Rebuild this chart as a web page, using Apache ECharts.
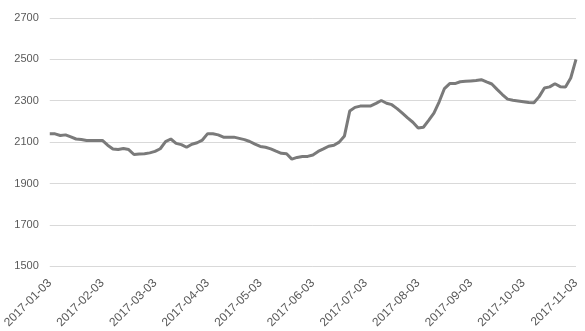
<!DOCTYPE html>
<html>
<head>
<meta charset="utf-8">
<script src="https://cdn.jsdelivr.net/npm/echarts@6/dist/echarts.min.js"></script>
<style>
html,body{margin:0;padding:0;background:#fff;}
#chart{width:585px;height:331px;}
</style>
</head>
<body>
<div id="chart"></div>
<script>
// Tick labels on the category axis (one every 10 points)
const tickLabels = ['2017-01-03','2017-02-03','2017-03-03','2017-04-03','2017-05-03','2017-06-03','2017-07-03','2017-08-03','2017-09-03','2017-10-03','2017-11-03'];
const pointsPerTick = 10;
// Price series
const values = [
  2140, 2140, 2132, 2135, 2125, 2115, 2113, 2108, 2108, 2108,
  2108, 2085, 2067, 2064, 2069, 2064, 2040, 2043, 2044, 2048,
  2055, 2068, 2102, 2115, 2094, 2088, 2075, 2090, 2097, 2110,
  2141, 2140, 2135, 2124, 2124, 2124, 2118, 2112, 2103, 2090,
  2079, 2075, 2067, 2056, 2046, 2044, 2018, 2026, 2030, 2031,
  2038, 2055, 2067, 2080, 2085, 2100, 2130, 2250, 2268, 2274,
  2275, 2275, 2287, 2301, 2288, 2281, 2262, 2240, 2217, 2196,
  2168, 2172, 2205, 2240, 2295, 2359, 2383, 2383, 2392, 2394,
  2396, 2398, 2402, 2391, 2381, 2355, 2330, 2308, 2302, 2299,
  2295, 2291, 2290, 2320, 2362, 2367, 2382, 2368, 2366, 2410,
  2500
];
const categories = values.map((v, i) => 'p' + i);
const yMin = 1500, yMax = 2700, yStep = 200;

const chart = echarts.init(document.getElementById('chart'));
chart.setOption({
  animation: false,
  backgroundColor: '#ffffff',
  grid: { left: 48, right: 9, top: 18, bottom: 64 },
  xAxis: {
    type: 'category',
    data: categories,
    boundaryGap: false,
    axisLine: { show: false },
    axisTick: { show: false },
    axisLabel: {
      interval: (idx) => idx % pointsPerTick === 0,
      formatter: (v, idx) => (idx % pointsPerTick === 0 ? tickLabels[idx / pointsPerTick] : ''),
      rotate: 45,
      margin: 15,
      color: '#595959',
      fontFamily: 'Liberation Sans',
      fontSize: 12
    }
  },
  yAxis: {
    type: 'value',
    min: yMin,
    max: yMax,
    interval: yStep,
    axisLine: { show: false },
    axisTick: { show: false },
    axisLabel: {
      margin: 11,
      color: '#595959',
      fontFamily: 'Liberation Sans',
      fontSize: 11,
      formatter: (v) => String(v)
    },
    splitLine: { lineStyle: { color: '#d9d9d9', width: 1 } }
  },
  series: [{
    type: 'line',
    data: values,
    symbol: 'none',
    lineStyle: { color: '#7a7a7a', width: 3 },
    itemStyle: { color: '#7a7a7a' }
  }]
});
</script>
</body>
</html>
